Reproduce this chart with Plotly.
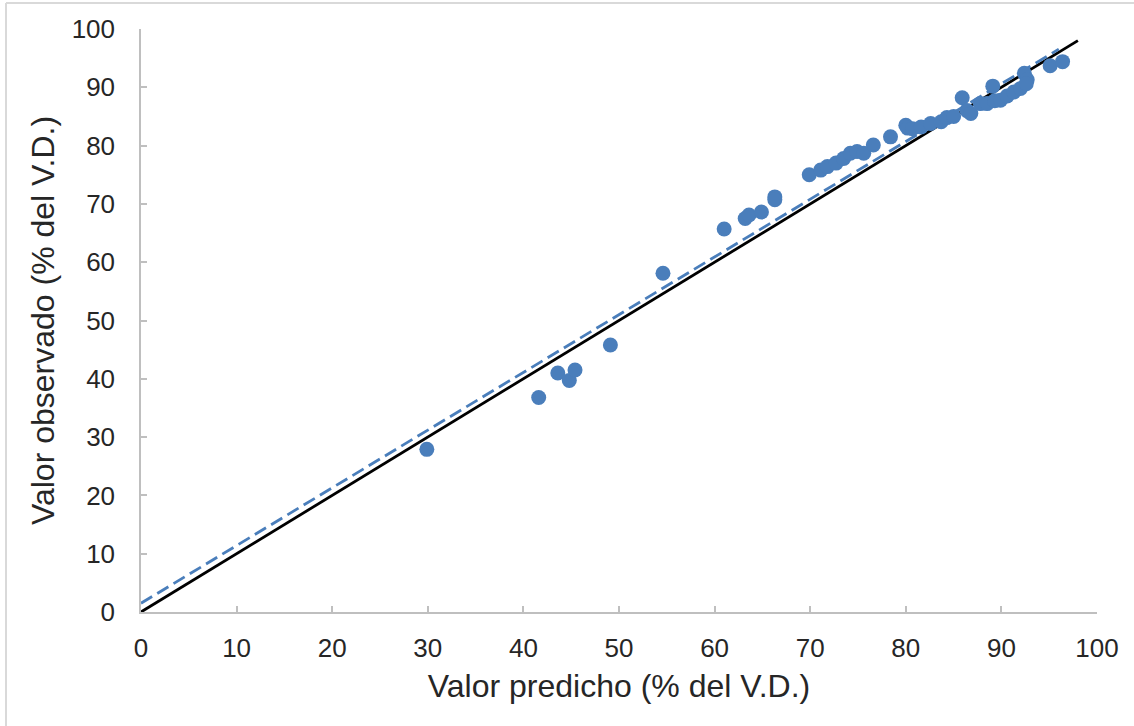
import plotly.graph_objects as go

# Predicted vs observed values (% of daily value)
predicho = [29.9, 41.6, 43.6, 44.8, 45.4, 49.1, 54.6, 61.0, 63.2, 63.6, 64.9,
            66.3, 66.3, 69.9, 71.1, 71.8, 72.7, 73.5, 74.2, 74.9, 75.6, 76.6,
            78.4, 80.0, 80.2, 80.7, 81.6, 82.6, 83.7, 84.3, 85.0, 85.9, 86.4,
            86.8, 87.8, 88.5, 89.1, 89.3, 89.9, 90.6, 91.3, 92.0, 92.4, 92.7,
            92.6, 95.1, 96.4]
observado = [27.9, 36.8, 41.0, 39.7, 41.5, 45.8, 58.1, 65.7, 67.5, 68.1, 68.6,
             71.2, 70.7, 75.0, 75.8, 76.4, 77.0, 77.8, 78.7, 79.0, 78.7, 80.1,
             81.5, 83.5, 83.0, 82.9, 83.2, 83.8, 84.1, 84.8, 85.0, 88.2, 86.0,
             85.5, 87.2, 87.2, 90.2, 87.7, 87.8, 88.5, 89.2, 89.8, 92.4, 91.3,
             90.6, 93.7, 94.4]

# 1:1 reference line and fitted regression line
identidad_x = [0, 98]
identidad_y = [0, 98]
ajuste_x = [0, 96]
ajuste_y = [1.5, 1.5 + 0.99 * 96]

x_ticks = list(range(0, 101, 10))
y_ticks = list(range(0, 101, 10))

azul = "#4a7ebb"
texto = "#262626"
font_family = "Liberation Sans, Arial, sans-serif"

fig = go.Figure()
fig.add_trace(go.Scatter(x=identidad_x, y=identidad_y, mode="lines",
                         line=dict(color="black", width=2.8), hoverinfo="skip"))
fig.add_trace(go.Scatter(x=ajuste_x, y=ajuste_y, mode="lines",
                         line=dict(color=azul, width=2.8, dash="13px,6px"), hoverinfo="skip"))
fig.add_trace(go.Scatter(x=predicho, y=observado, mode="markers",
                         marker=dict(color=azul, size=15, line=dict(width=0))))

axis_common = dict(
    showgrid=False, zeroline=False, showline=True, linecolor="#bfbfbf", linewidth=1.5,
    ticks="inside", ticklen=6, tickcolor="#bfbfbf", tickwidth=1.5,
    tickfont=dict(family=font_family, size=26, color=texto),
    range=[0, 100],
)

fig.update_layout(
    width=1134, height=726,
    margin=dict(l=141, r=37, t=29, b=114),
    paper_bgcolor="white", plot_bgcolor="white",
    showlegend=False,
    font=dict(family=font_family, color=texto),
    xaxis=dict(**axis_common, tickvals=x_ticks, ticklabelstandoff=12,
               title=dict(text="Valor predicho (% del V.D.)",
                          font=dict(family=font_family, size=32, color=texto),
                          standoff=13)),
    yaxis=dict(**axis_common, tickvals=y_ticks, ticklabelstandoff=19,
               title=dict(text="Valor observado (% del V.D.)",
                          font=dict(family=font_family, size=32, color=texto),
                          standoff=7)),
    shapes=[
        dict(type="line", xref="paper", yref="paper", x0=-0.1412, x1=1.04,
             y0=1.0446, y1=1.0446, line=dict(color="#d9d9d9", width=2)),
        dict(type="line", xref="paper", yref="paper", x0=-0.1412, x1=-0.1412,
             y0=1.0446, y1=-0.2, line=dict(color="#d9d9d9", width=2)),
    ],
)

fig.write_html("out.html")
